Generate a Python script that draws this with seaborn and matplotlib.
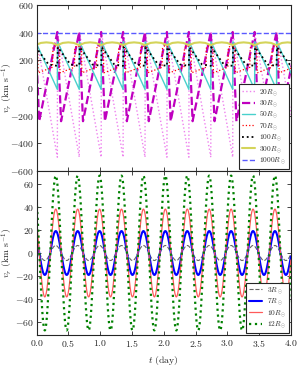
import numpy as np
import pandas as pd
import matplotlib
matplotlib.use("Agg")
import matplotlib.pyplot as plt
import seaborn as sns

# ---------------- data ----------------
period = 0.345          # day
t_jump = 0.325          # day, time of the sawtooth jumps in the top panel
t_peak = 0.30           # day, time of the first maximum in the bottom panel

# top panel: one cycle of each profile, phase (0..1 after a jump) and v_r (km/s)
top_labels = ["20", "30", "50", "70", "100", "300", "1000"]
top_phase = {
    "20":   [0.0, 0.01],
    "30":   [0.0, 0.17],
    "50":   [0.0, 0.01],
    "70":   [0.0, 0.10, 0.12, 0.78, 0.80, 0.90],
    "100":  [0.0, 0.02, 0.60],
    "300":  [0.0, 0.25, 0.5, 0.75],
    "1000": [0.0, 0.5],
}
top_value = {
    "20":   [-500, 400],
    "30":   [405, -240],
    "50":   [-10, 335],
    "70":   [300, 290, 110, 150, 290, 305],
    "100":  [160, 295, 170],
    "300":  [310, 326, 330, 326],
    "1000": [400, 400],
}

# bottom panel: amplitude of the sinusoidal v_r (km/s)
bot_labels = ["3", "7", "10", "12"]
bot_amp = [6.5, 19.0, 38.0, 67.0]

t_min, t_max = 0.0, 4.0

# ---------------- styling ----------------
sns.set_style("ticks")
plt.rcParams.update({
    "font.family": ["serif"],
    "font.serif": ["cmr10", "DejaVu Serif"],
    "mathtext.fontset": "cm",
    "axes.formatter.use_mathtext": True,
    "font.size": 7,
    "axes.labelsize": 7,
    "xtick.labelsize": 7,
    "ytick.labelsize": 7,
    "legend.fontsize": 5.3,
    "xtick.direction": "in",
    "ytick.direction": "in",
    "xtick.top": True,
    "ytick.right": True,
    "axes.edgecolor": "0.15",
    "axes.linewidth": 0.8,
})

top_style = {
    "20":   dict(color="violet", ls=":", lw=1.0),
    "30":   dict(color="m", ls="--", lw=1.6),
    "50":   dict(color="mediumturquoise", ls="-", lw=1.0),
    "70":   dict(color="red", ls=":", lw=0.9),
    "100":  dict(color="k", ls=":", lw=1.3),
    "300":  dict(color="#d4d45a", ls="-", lw=1.5),
    "1000": dict(color="#5a5aff", ls="--", lw=1.0),
}
bot_style = {
    "3":  dict(color="0.4", ls="--", lw=0.8),
    "7":  dict(color="blue", ls="-", lw=1.5),
    "10": dict(color="#ff5a5a", ls="-", lw=0.9),
    "12": dict(color="green", ls=":", lw=1.6),
}

fig = plt.figure(figsize=(2.99, 3.69), dpi=100)
ax_top = fig.add_axes([0.1227, 0.5366, 0.850, 0.4498])
ax_bot = fig.add_axes([0.1227, 0.0921, 0.850, 0.4445], sharex=ax_top)

# ---------------- top panel ----------------
n_cyc = int(np.ceil((t_max - t_min) / period)) + 2
k0 = int(np.floor((t_min - t_jump) / period)) - 1
for lab in top_labels:
    ph = np.array(top_phase[lab])
    vv = np.array(top_value[lab])
    ts, vs = [], []
    for k in range(k0, k0 + n_cyc + 1):
        ts.extend(t_jump + (k + ph) * period)
        vs.extend(vv)
    df = pd.DataFrame({"t": ts, "v": vs})
    st = top_style[lab]
    sns.lineplot(data=df, x="t", y="v", ax=ax_top, sort=False, estimator=None,
                 color=st["color"], linestyle=st["ls"], linewidth=st["lw"],
                 label=lab + r"$R_\odot$")

# ---------------- bottom panel ----------------
t = np.linspace(t_min, t_max, 2000)
for lab, amp in zip(bot_labels, bot_amp):
    v = amp * np.cos(2 * np.pi * (t - t_peak) / period)
    df = pd.DataFrame({"t": t, "v": v})
    st = bot_style[lab]
    sns.lineplot(data=df, x="t", y="v", ax=ax_bot, sort=False, estimator=None,
                 color=st["color"], linestyle=st["ls"], linewidth=st["lw"],
                 label=lab + r"$R_\odot$")

# ---------------- axes ----------------
ax_top.set_xlim(t_min, t_max)
ax_top.set_ylim(-600, 600)
ax_top.set_yticks(np.arange(-600, 601, 200))
ax_top.set_ylabel(r"$v_r$ (km s$^{-1}$)")
ax_top.set_xlabel("")
ax_top.tick_params(labelbottom=False)

ax_bot.set_ylim(-71, 71)
ax_bot.set_yticks(np.arange(-60, 61, 20))
ax_bot.set_xticks(np.arange(0, 4.01, 0.5))
ax_bot.set_ylabel(r"$v_r$ (km s$^{-1}$)")
ax_bot.set_xlabel(r"$t$ (day)")

for ax in (ax_top, ax_bot):
    ax.yaxis.set_label_coords(-0.085, 0.5)
    ax.tick_params(length=3, width=0.6, pad=2)

for ax in (ax_top, ax_bot):
    leg = ax.legend(loc="lower right", frameon=True, fancybox=False,
                    handlelength=1.8, borderaxespad=0.3, labelspacing=0.1,
                    handletextpad=0.6, borderpad=0.35)
    leg.get_frame().set_edgecolor("0.15")
    leg.get_frame().set_linewidth(0.8)
    leg.get_frame().set_alpha(1)

fig.savefig("out.png", dpi=100)
